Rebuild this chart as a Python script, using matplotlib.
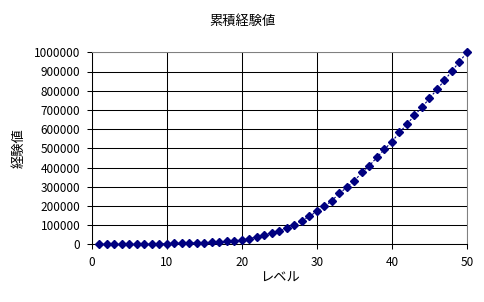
import matplotlib
matplotlib.use("Agg")
import matplotlib.pyplot as plt

plt.rcParams['font.family'] = ['Noto Sans CJK JP', 'DejaVu Sans']

levels = list(range(1, 51))
exp_total = [
    0, 100, 300, 600, 1000, 1500, 2000, 2500, 3000, 3500,
    4200, 5000, 6000, 7200, 8600, 10200, 12500, 15500, 19500, 24000,
    30000, 38000, 48000, 59000, 71000, 83000, 99000, 123000, 146000, 172000,
    197000, 228000, 266000, 297000, 332000, 374000, 410000, 453000, 495000, 535000,
    583000, 625000, 672000, 714000, 760000, 807000, 854000, 903000, 951000, 1000000,
]

title = '累積経験値'
xlabel = 'レベル'
ylabel = '経験値'

navy = '#000080'

fig = plt.figure(figsize=(4.85, 3.02), dpi=100)
ax = fig.add_axes([92 / 485, 1 - 244.3 / 302, 375 / 485, 192 / 302])

ax.plot(levels, exp_total, color=navy, linestyle=(0, (2, 1.5)), linewidth=0.8,
        marker='D', markersize=4.5, markerfacecolor=navy, markeredgecolor=navy,
        zorder=3, clip_on=False)

ax.set_xlim(0, 50)
ax.set_ylim(0, 1000000)
ax.set_xticks(range(0, 51, 10))
ax.set_yticks(range(0, 1000001, 100000))
ax.set_yticklabels([str(v) for v in range(0, 1000001, 100000)])
ax.grid(True, color='black', linewidth=0.75)
ax.set_axisbelow(True)

ax.tick_params(direction='out', length=3.5, width=0.75, labelsize=8.5)
ax.tick_params(axis='y', pad=5)
ax.tick_params(axis='x', pad=5)
for side in ['left', 'bottom']:
    ax.spines[side].set_color('black')
    ax.spines[side].set_linewidth(0.75)
for side in ['top', 'right']:
    ax.spines[side].set_color('#808080')
    ax.spines[side].set_linewidth(0.75)

fig.text(242 / 485, 1 - 21 / 302, title, ha='center', va='center', fontsize=9.5)
ax.set_xlabel(xlabel, fontsize=9.5, labelpad=2)
ax.set_ylabel(ylabel, fontsize=9.5, labelpad=6)

fig.savefig('out.png', dpi=100)
